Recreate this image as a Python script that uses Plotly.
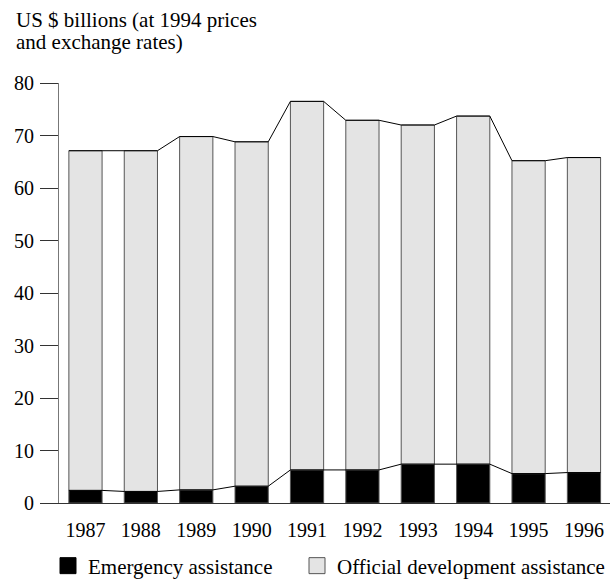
import plotly.graph_objects as go

years = ["1987", "1988", "1989", "1990", "1991", "1992", "1993", "1994", "1995", "1996"]
emergency = [2.4, 2.2, 2.5, 3.2, 6.3, 6.3, 7.4, 7.4, 5.6, 5.8]
total = [67.1, 67.1, 69.8, 68.8, 76.5, 72.9, 72.0, 73.7, 65.2, 65.8]
oda = [t - e for t, e in zip(total, emergency)]
y_ticks = [0, 10, 20, 30, 40, 50, 60, 70, 80]
title_lines = ["US $ billions (at 1994 prices", "and exchange rates)"]
series_names = ["Emergency assistance", "Official development assistance"]

FONT = "Liberation Serif"
BW = 0.6
xs = list(range(len(years)))
W, H = 610, 583
ML, MR, MT, MB = 59, 0, 83, 80
PW, PH = W - ML - MR, H - MT - MB

def step_path(vals):
    px, py = [], []
    for i, v in zip(xs, vals):
        px += [i - BW / 2, i + BW / 2]
        py += [v, v]
    return px, py

def px_to_paper_y(ypx):
    return 1 + (MT - ypx) / PH

def px_to_paper_x(xpx):
    return (xpx - ML) / PW

fig = go.Figure()
fig.add_trace(go.Bar(x=xs, y=emergency, width=BW, marker=dict(color="#000000", line=dict(color="#555555", width=1)),
                     showlegend=False, hoverinfo="skip"))
fig.add_trace(go.Bar(x=xs, y=oda, base=emergency, width=BW, marker=dict(color="#e4e4e4", line=dict(color="#555555", width=1)),
                     showlegend=False, hoverinfo="skip"))
ex, ey = step_path(emergency)
fig.add_trace(go.Scatter(x=ex, y=ey, mode="lines", line=dict(color="#000000", width=1), showlegend=False, hoverinfo="skip"))
tx, ty = step_path(total)
fig.add_trace(go.Scatter(x=tx, y=ty, mode="lines", line=dict(color="#000000", width=1), showlegend=False, hoverinfo="skip"))

# legend entries (two separate legends to place them like the reference)
fig.add_trace(go.Scatter(x=[None], y=[None], mode="markers", name=series_names[0], legend="legend",
                         marker=dict(symbol="square", size=20, color="#000000", line=dict(color="#000000", width=1))))
fig.add_trace(go.Scatter(x=[None], y=[None], mode="markers", name=series_names[1], legend="legend2",
                         marker=dict(symbol="square", size=20, color="#e4e4e4", line=dict(color="#555555", width=1))))

for line, ypx in zip(title_lines, [20, 42]):
    fig.add_annotation(text=line, xref="paper", yref="paper", x=px_to_paper_x(14), y=px_to_paper_y(ypx),
                       xanchor="left", yanchor="middle", showarrow=False,
                       font=dict(family=FONT, size=21, color="#000000"))

leg_common = dict(orientation="h", xanchor="left", yanchor="middle", itemsizing="trace",
                  font=dict(family=FONT, size=21, color="#000000"), bgcolor="rgba(0,0,0,0)")

fig.update_layout(
    width=W, height=H,
    margin=dict(l=ML, r=MR, t=MT, b=MB, autoexpand=False),
    paper_bgcolor="white", plot_bgcolor="white",
    barmode="overlay",
    font=dict(family=FONT, size=20, color="#000000"),
    xaxis=dict(tickmode="array", tickvals=xs, ticktext=years, range=[-0.478, 9.47],
               showline=True, linecolor="#333333", linewidth=1, showgrid=False, zeroline=False,
               ticks="outside", ticklen=9, tickcolor="rgba(0,0,0,0)", tickfont=dict(size=20)),
    yaxis=dict(range=[0, 80], tickmode="array", tickvals=y_ticks, showline=True, linecolor="#777777", linewidth=1,
               showgrid=False, zeroline=False, ticks="outside", ticklen=18, tickcolor="#333333", tickwidth=1,
               ticklabelstandoff=2, tickfont=dict(size=20)),
    legend=dict(x=px_to_paper_x(48), y=px_to_paper_y(566), **leg_common),
    legend2=dict(x=px_to_paper_x(297), y=px_to_paper_y(566), **leg_common),
)

fig.write_html("out.html", config={"displayModeBar": False},
               post_script="document.body.style.margin='0px';document.body.style.overflow='hidden';")
